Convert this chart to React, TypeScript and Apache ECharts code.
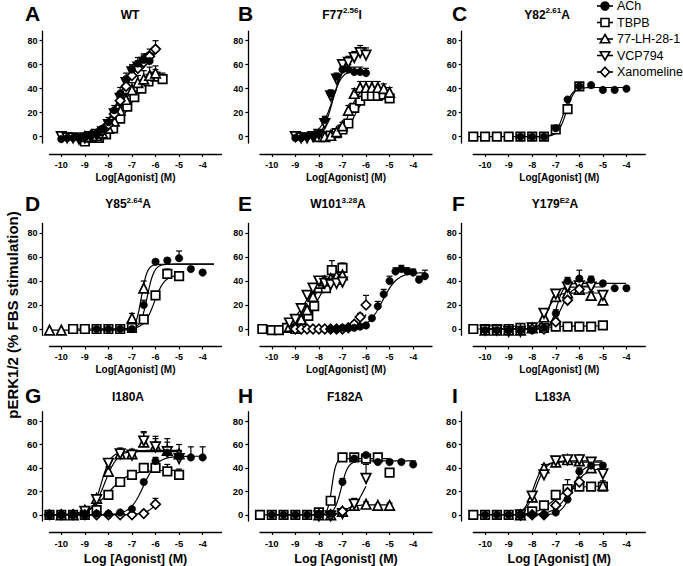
import React, { useEffect, useRef } from 'react';
import * as echarts from 'echarts';

type Pt = [number, number, number]; // [log conc, response, SEM (upper bar)]
type Fit = [number, number, number, number, number, number] | null; // bottom, top, logEC50, hill, xFrom, xTo

const LIGANDS = ['ACh', 'TBPB', '77-LH-28-1', 'VCP794', 'Xanomeline'];
const PANEL_LETTERS = ['A', 'B', 'C', 'D', 'E', 'F', 'G', 'H', 'I'];
const PANEL_TITLES = [
  '{b|WT}', '{b|F77}{s|2.56}{b|I}', '{b|Y82}{s|2.61}{b|A}',
  '{b|Y85}{s|2.64}{b|A}', '{b|W101}{s|3.28}{b|A}', '{b|Y179}{s|E2}{b|A}',
  '{b|I180A}', '{b|F182A}', '{b|L183A}',
];
const X_NAMES = ['Log[Agonist] (M)', 'Log[Agonist] (M)', 'Log [Agonist] (M)'];
const Y_TITLE = 'pERK1/2 (% FBS stimulation)';
const Y_TICKS = [0, 20, 40, 60, 80];
const X_TICKS = [-10, -9, -8, -7, -6, -5, -4];

// ---- Panel A: WT
const A_ACh: Pt[] = [[-10,-2,1],[-9.75,-1,1],[-9.5,-1,1],[-9.25,-1,1],[-9,0,1],[-8.75,1,1],[-8.5,2,2],[-8.25,6,3],[-8,12,4],[-7.75,22,4],[-7.5,36,5],[-7.25,48,5],[-7,56,4],[-6.75,61,5],[-6.5,64,5],[-6.25,63,5]];
const A_TBPB: Pt[] = [[-9,-4,2],[-8.7,-1,2],[-8.4,-1,2],[-8.1,2,2],[-7.8,7,3],[-7.5,15,3],[-7.2,25,4],[-6.9,33,5],[-6.6,40,5],[-6.3,46,6],[-6,50,6],[-5.7,48,5]];
const A_LH: Pt[] = [[-9,0,1],[-8.75,0,1],[-8.5,1,2],[-8.25,3,2],[-8,7,3],[-7.75,13,3],[-7.5,22,4],[-7.25,31,5],[-7,39,6],[-6.75,45,6],[-6.5,48,7],[-6.25,51,7],[-6,53,6]];
const A_VCP: Pt[] = [[-10,0,1],[-9.75,-1,1],[-9.5,-1,1],[-9.25,-2,1],[-9,-1,1],[-8.75,0,1],[-8.5,2,2],[-8.25,4,3],[-8,10,3],[-7.75,19,4],[-7.5,32,5],[-7.25,45,5],[-7,54,5],[-6.75,58,5],[-6.5,62,5],[-6.25,65,5]];
const A_XAN: Pt[] = [[-9,0,1],[-8.75,1,1],[-8.5,2,2],[-8.25,5,2],[-8,10,3],[-7.75,19,4],[-7.5,30,5],[-7.25,42,5],[-7,51,5],[-6.75,57,6],[-6.5,62,6],[-6.25,67,6],[-6,73,7]];
const A_FIT: Fit[] = [[0,66,-7.55,1.3,-10,-6.25],[-1,52,-7.1,1.0,-9,-5.7],[0,55,-7.35,1.1,-9,-6],[0,68,-7.5,1.2,-10,-6.25],[0,80,-7.3,0.9,-9,-6]];

// ---- Panel B: F77I
const B_ACh: Pt[] = [[-9,-1,1],[-8.75,-1,1],[-8.5,0,1],[-8.25,1,1],[-8,3,2],[-7.75,14,3],[-7.5,36,3],[-7.25,50,3],[-7,56,3],[-6.75,56,4],[-6.5,54,4],[-6.25,54,4],[-6,53,4]];
const B_TBPB: Pt[] = [[-8,0,1],[-7.75,0,1],[-7.5,1,1],[-7.25,3,1],[-7,6,2],[-6.75,11,2],[-6.5,24,3],[-6.25,30,3],[-6,34,4],[-5.75,34,4],[-5.5,34,4],[-5.25,35,4],[-5,32,4]];
const B_LH: Pt[] = [[-8,0,1],[-7.75,0,1],[-7.5,1,1],[-7.25,4,2],[-7,9,3],[-6.75,22,4],[-6.5,36,4],[-6.25,41,5],[-6,41,5],[-5.75,41,5],[-5.5,41,5],[-5.25,40,4],[-5,37,4]];
const B_VCP: Pt[] = [[-9,0,1],[-8.75,-1,1],[-8.5,-1,1],[-8.25,0,1],[-8,2,2],[-7.75,11,4],[-7.5,34,4],[-7.25,48,4],[-7,60,4],[-6.75,62,5],[-6.5,66,5],[-6.25,70,6],[-6,68,6]];
const B_XAN: Pt[] = [];
const B_FIT: Fit[] = [[0,55,-7.45,2.2,-9,-6],[0,34,-6.5,2,-8,-5],[0,41,-6.7,2,-8,-5],[0,70,-7.35,1.5,-9,-6],null];

// ---- Panel C: Y82A
const C_ACh: Pt[] = [[-8.5,0,0],[-8,0,0],[-7.5,0,0],[-7,7,0],[-6.5,31,0],[-6,42,0],[-5.5,43,0],[-5,39,0],[-4.5,39,0],[-4,40,0]];
const C_TBPB: Pt[] = [[-10.5,0,0],[-10,0,0],[-9.5,0,0],[-9,0,0],[-8.5,0,0],[-8,0,0],[-7.5,0,0],[-7,6,0],[-6.5,23,0],[-6,42,0]];
const C_FIT: Fit[] = [[0,41,-6.65,2.5,-8.5,-4],[0,42,-6.55,2.5,-10.5,-6],null,null,null];

// ---- Panel D: Y85A
const D_ACh: Pt[] = [[-8.5,0,0],[-8,0,0],[-7.5,0,0],[-7,0,0],[-6.5,20,4],[-6,56,2],[-5.5,57,2],[-5,59,6],[-4.5,50,2],[-4,47,2]];
const D_TBPB: Pt[] = [[-9.5,0,0],[-9,0,0],[-8.5,0,0],[-8,0,0],[-7.5,0,0],[-7,1,0],[-6.5,8,2],[-6,28,2],[-5.5,46,4],[-5,44,2]];
const D_LH: Pt[] = [[-10.5,-1,0],[-10,-1,0],[-7,9,4],[-6.5,34,6]];
const D_FIT: Fit[] = [[0,54,-6.35,3,-8.5,-3.5],[0,45,-6.05,2,-9.5,-5],[-1,54,-6.6,3.5,-10.5,-3.5],null,null];

// ---- Panel E: W101A
const E_ACh: Pt[] = [[-7.5,0,0],[-7.25,0,0],[-7,1,0],[-6.75,1,0],[-6.5,1,0],[-6.25,2,0],[-6,3,0],[-5.75,9,0],[-5.5,19,4],[-5.25,29,4],[-5,40,4],[-4.75,48,3],[-4.5,50,3],[-4.25,48,3],[-4,47,3],[-3.75,41,3],[-3.5,44,5]];
const E_TBPB: Pt[] = [[-10.4,0,2],[-10,-1,1],[-9.7,-1,1],[-9.35,1,1],[-9,0,1],[-8.75,4,2],[-8.45,11,3],[-8.2,19,4],[-8,34,4],[-7.7,34,4],[-7.45,49,8],[-7.2,41,4],[-7,51,4]];
const E_LH: Pt[] = [[-9.25,2,1],[-9,3,1],[-8.75,8,2],[-8.5,16,3],[-8.25,27,3],[-8,38,4],[-7.75,40,4],[-7.5,42,4],[-7.25,44,4],[-7,45,4]];
const E_VCP: Pt[] = [[-9.25,5,1],[-9,8,2],[-8.75,17,3],[-8.5,28,3],[-8.25,34,3],[-8,40,3],[-7.75,38,3],[-7.5,37,3],[-7.25,38,3],[-7,39,3]];
const E_XAN: Pt[] = [[-9,0,0],[-8.75,0,0],[-8.5,0,0],[-8.25,0,0],[-8,0,0],[-7.75,0,0],[-7.5,0,0],[-7.25,0,0],[-7,0,0],[-6.75,1,0],[-6.5,4,2],[-6.25,10,3],[-6,20,8]];
const E_FIT: Fit[] = [[0,47,-5.3,1.4,-7.5,-3.5],[0,52,-8.0,1.2,-9.5,-7],[0,47,-8.3,1.3,-9.25,-7],[0,40,-8.65,1.3,-9.25,-7],[0,60,-5.6,1.5,-9,-6]];

// ---- Panel F: Y179A
const F_ACh: Pt[] = [[-10,-1,0],[-9.5,-1,0],[-9,-1,0],[-8.5,-1,0],[-8,-1,0],[-7.5,1,0],[-7,13,3],[-6.5,40,3],[-6,42,7],[-5.5,41,3],[-5,38,2],[-4.5,34,0],[-4,34,2]];
const F_TBPB: Pt[] = [[-10.5,0,0],[-10,0,0],[-9.5,0,0],[-9,0,0],[-8.5,1,0],[-8,1,0],[-7.5,1,0],[-7,2,0],[-6.5,2,0],[-6,2,0],[-5.5,2,0],[-5,3,1]];
const F_LH: Pt[] = [[-10,-1,0],[-9.5,-1,0],[-9,-1,0],[-8.5,-1,0],[-8,1,0],[-7.5,10,3],[-7,27,3],[-6.5,30,3],[-6,33,4],[-5.5,28,3],[-5,24,3]];
const F_VCP: Pt[] = [[-10,-1,0],[-9.5,-1,0],[-9,-2,0],[-8.5,-2,0],[-8,1,0],[-7.5,13,3],[-7,29,3],[-6.5,35,3],[-6,36,4],[-5.5,35,3],[-5,28,3]];
const F_XAN: Pt[] = [[-8,0,0],[-7.5,0,0],[-7,6,3],[-6.5,24,3],[-6,33,4]];
const F_FIT: Fit[] = [[0,38,-6.95,3,-10,-4],[0,2.5,-7.5,1,-10.5,-5],[0,30,-7.35,2.5,-10,-5],[0,35,-7.3,2.5,-10,-5],[0,36,-6.75,2,-8,-5.5]];

// ---- Panel G: I180A
const G_ACh: Pt[] = [[-10.5,0,0],[-10,0,0],[-9.5,0,0],[-9,0,0],[-8.5,1,0],[-8,1,0],[-7.5,2,1],[-7,5,1],[-6.5,28,2],[-6,46,3],[-5.5,53,5],[-5,50,5],[-4.5,49,9],[-4,49,9]];
const G_TBPB: Pt[] = [[-10.5,0,0],[-10,0,0],[-9.5,0,0],[-9,0,0],[-8.5,4,2],[-8,17,3],[-7.5,28,3],[-7,34,3],[-6.5,40,3],[-6,40,4],[-5.5,37,6],[-5,34,5]];
const G_LH: Pt[] = [[-10,0,0],[-9.5,0,0],[-9,4,2],[-8.5,14,3],[-8,37,4],[-7.5,52,5],[-7,52,4],[-6.5,62,9],[-6,59,8],[-5.5,55,10],[-5,52,8]];
const G_VCP: Pt[] = [[-9,3,0],[-8.5,13,3],[-8,44,4],[-7.5,52,4],[-7,51,3],[-6.5,63,7],[-6,58,7],[-5.5,54,8],[-5,48,6]];
const G_XAN: Pt[] = [[-10.5,0,0],[-10,0,0],[-9.5,0,0],[-9,0,0],[-8.5,0,0],[-8,0,0],[-7.5,0,0],[-7,0,0],[-6.5,1,0],[-6,9,5]];
const G_FIT: Fit[] = [[0,50,-6.5,1.5,-10.5,-4],[0,38,-8.0,1.0,-10.5,-5],[0,55,-8.15,1.6,-10,-5],[0,54,-8.3,2.2,-9,-5],[0,60,-5.5,1.5,-10.5,-6]];

// ---- Panel H: F182A
const H_ACh: Pt[] = [[-10,0,0],[-9.5,0,0],[-9,0,0],[-8.5,0,0],[-8,0,0],[-7.5,1,0],[-7,28,3],[-6.5,48,2],[-6,51,2],[-5.5,45,2],[-5,45,2],[-4.5,45,2],[-4,43,3]];
const H_TBPB: Pt[] = [[-10.5,0,0],[-10,0,0],[-9.5,0,0],[-9,0,0],[-8.5,0,0],[-8,2,0],[-7.5,12,1],[-7,49,1],[-6.5,49,1],[-6,48,2],[-5.5,49,1],[-5,36,1]];
const H_LH: Pt[] = [[-8,0,0],[-7.5,0,0],[-7,3,2],[-6.5,8,2],[-6,9,2],[-5.5,8,1],[-5,8,2]];
const H_VCP: Pt[] = [[-8,-1,0],[-7.5,-1,0],[-7,1,0],[-6.5,9,5],[-6,31,12]];
const H_XAN: Pt[] = [[-8,0,0],[-7.5,0,0],[-7,3,0]];
const H_FIT: Fit[] = [[0,46,-7.05,3,-10,-4],[0,48,-7.45,5,-10.5,-5],[0,8.5,-6.9,2,-8,-5],[0,45,-6.05,1.5,-8,-6],null];

// ---- Panel I: L183A
const I_ACh: Pt[] = [[-10,0,0],[-9.5,0,0],[-9,0,0],[-8.5,0,0],[-8,0,0],[-7.5,0,0],[-7,2,0],[-6.5,13,2],[-6,37,3],[-5.5,42,2],[-5,42,2]];
const I_TBPB: Pt[] = [[-10.5,0,0],[-10,0,0],[-9.5,0,0],[-9,0,0],[-8.5,0,0],[-8,3,0],[-7.5,8,0],[-7,17,2],[-6.5,22,8],[-6,24,3],[-5.5,24,2],[-5,24,2]];
const I_LH: Pt[] = [[-8.5,0,0],[-8,15,3],[-7.5,40,3],[-7,45,3],[-6.5,47,3],[-6,46,4],[-5.5,40,3],[-5,25,4]];
const I_VCP: Pt[] = [[-8.5,0,0],[-8,16,3],[-7.5,34,3],[-7,46,3],[-6.5,47,3],[-6,47,4],[-5.5,45,3],[-5,35,3]];
const I_XAN: Pt[] = [[-8.5,0,0],[-8,0,0],[-7.5,0,0],[-7,8,2],[-6.5,19,3],[-6,28,4]];
const I_FIT: Fit[] = [[0,43,-6.3,2,-10,-5],[0,24.5,-7.1,1.2,-10.5,-5],[0,45,-7.95,2.2,-8.5,-5],[0,46,-7.85,2,-8.5,-5],[0,40,-6.4,1.3,-8.5,-5]];

const PANEL_DATA: Pt[][][] = [
  [A_ACh, A_TBPB, A_LH, A_VCP, A_XAN],
  [B_ACh, B_TBPB, B_LH, B_VCP, B_XAN],
  [C_ACh, C_TBPB, [], [], []],
  [D_ACh, D_TBPB, D_LH, [], []],
  [E_ACh, E_TBPB, E_LH, E_VCP, E_XAN],
  [F_ACh, F_TBPB, F_LH, F_VCP, F_XAN],
  [G_ACh, G_TBPB, G_LH, G_VCP, G_XAN],
  [H_ACh, H_TBPB, H_LH, H_VCP, H_XAN],
  [I_ACh, I_TBPB, I_LH, I_VCP, I_XAN],
];
const PANEL_FITS: Fit[][] = [A_FIT, B_FIT, C_FIT, D_FIT, E_FIT, F_FIT, G_FIT, H_FIT, I_FIT];

// ---- layout / style (not data)
const FONT = '"Liberation Sans", Arial, sans-serif';
const COL_LEFT = [49.5, 260, 473.3];
const COL_YGAP = [7, 11.7, 11.6];
const GRID_W = 172;
const ROW_ZERO = [136.7, 329, 517.3];
const PX_PER_UNIT = 1.2;
const Y_MIN = -5.3;
const Y_MAX = 88;
const X_MIN = -10.5;
const X_MAX = -3.2;
const TITLE_X = [130, 342, 547, 128, 338, 555, 128, 345, 553];
const LETTER_X = [25, 238, 452];
const ROW_TITLE_Y = [13.5, 203, 395.5];

const SYMBOL = ['circle', 'rect', 'triangle', 'triangle', 'diamond'];
const SYMBOL_ROT = [0, 0, 0, 180, 0];
const SYMBOL_SIZE = [7.5, 8.5, 9.5, 9.5, 9.5];
const SYMBOL_Z = [6, 5, 5, 5, 5];

function hillY(f: Fit, x: number): number {
  if (!f) return 0;
  const [b, t, ec, h] = f;
  return b + (t - b) / (1 + Math.pow(10, (ec - x) * h));
}

function buildOption() {
  const grid: any[] = [];
  const xAxis: any[] = [];
  const yAxis: any[] = [];
  const series: any[] = [];
  const graphic: any[] = [];

  for (let p = 0; p < 9; p++) {
    const row = Math.floor(p / 3);
    const col = p % 3;
    const y0 = ROW_ZERO[row];
    const top = y0 - Y_MAX * PX_PER_UNIT;
    const height = (Y_MAX - Y_MIN) * PX_PER_UNIT;
    grid.push({ left: COL_LEFT[col], top, width: GRID_W, height });
    const big = row === 2;
    xAxis.push({
      gridIndex: p, type: 'value', min: X_MIN, max: X_MAX, position: 'bottom', offset: 11,
      axisLine: { show: true, onZero: false, lineStyle: { color: '#000', width: 1.3 } },
      axisTick: { show: true, length: 3, customValues: X_TICKS, lineStyle: { color: '#000', width: 1.2 } },
      axisLabel: { customValues: X_TICKS, fontSize: big ? 9.5 : 9, fontWeight: 'bold', color: '#000', margin: 6, fontFamily: FONT },
      splitLine: { show: false },
      name: X_NAMES[row], nameLocation: 'middle', nameGap: big ? 20 : 18,
      nameTextStyle: { fontSize: big ? 12.5 : 10, fontWeight: 'bold', color: '#000', fontFamily: FONT },
    });
    yAxis.push({
      gridIndex: p, type: 'value', min: Y_MIN, max: Y_MAX, position: 'left', offset: COL_YGAP[col],
      axisLine: { show: true, onZero: false, lineStyle: { color: '#000', width: 1.3 } },
      axisTick: { show: true, length: 3, customValues: Y_TICKS, lineStyle: { color: '#000', width: 1.2 } },
      axisLabel: { customValues: Y_TICKS, fontSize: big ? 9.5 : 9, fontWeight: 'bold', color: '#000', margin: 5, fontFamily: FONT },
      splitLine: { show: false },
    });

    // fitted curves
    PANEL_FITS[p].forEach((f, l) => {
      if (!f) return;
      const pts: number[][] = [];
      const [, , , , x0, x1] = f;
      const n = Math.max(2, Math.round((x1 - x0) / 0.02));
      for (let i = 0; i <= n; i++) {
        const x = x0 + ((x1 - x0) * i) / n;
        pts.push([x, hillY(f, x)]);
      }
      series.push({
        type: 'line', name: LIGANDS[l] + ' fit', xAxisIndex: p, yAxisIndex: p, data: pts,
        showSymbol: false, symbol: 'none', silent: true, z: 2,
        lineStyle: { color: '#000', width: 1.2 },
      });
    });

    PANEL_DATA[p].forEach((d, l) => {
      if (!d.length) return;
      series.push({
        type: 'custom', name: LIGANDS[l] + ' err', xAxisIndex: p, yAxisIndex: p, z: 3, silent: true,
        data: d,
        encode: { x: 0, y: 1 },
        renderItem: (params: any, api: any) => {
          const x = api.value(0);
          const y = api.value(1);
          const e = api.value(2);
          if (!e) return { type: 'group', children: [] };
          const a = api.coord([x, y]);
          const b = api.coord([x, y + e]);
          return {
            type: 'group',
            children: [
              { type: 'line', shape: { x1: a[0], y1: a[1], x2: b[0], y2: b[1] }, style: { stroke: '#000', lineWidth: 1.2 } },
              { type: 'line', shape: { x1: b[0] - 3, y1: b[1], x2: b[0] + 3, y2: b[1] }, style: { stroke: '#000', lineWidth: 1.2 } },
            ],
          };
        },
      });
      series.push({
        type: 'scatter', name: LIGANDS[l], xAxisIndex: p, yAxisIndex: p, z: SYMBOL_Z[l],
        data: d.map((q) => [q[0], q[1]]),
        symbol: SYMBOL[l], symbolRotate: SYMBOL_ROT[l], symbolSize: SYMBOL_SIZE[l],
        itemStyle: l === 0
          ? { color: '#000', borderColor: '#000', borderWidth: 0.5, opacity: 1 }
          : { color: '#fff', borderColor: '#000', borderWidth: 1.7, opacity: 1 },
      });
    });

    // panel title + letter
    graphic.push({
      type: 'text', x: TITLE_X[p], y: ROW_TITLE_Y[row],
      style: {
        text: PANEL_TITLES[p], align: 'center', verticalAlign: 'middle',
        rich: {
          b: { fontSize: 12, fontWeight: 'bold', fontFamily: FONT, fill: '#000', lineHeight: 14, verticalAlign: 'bottom' },
          s: { fontSize: 8, fontWeight: 'bold', fontFamily: FONT, fill: '#000', lineHeight: 9, verticalAlign: 'top' },
        },
      },
    });
    graphic.push({
      type: 'text', x: LETTER_X[col], y: ROW_TITLE_Y[row],
      style: { text: PANEL_LETTERS[p], align: 'left', verticalAlign: 'middle', fontSize: 21, fontWeight: 'bold', fontFamily: FONT, fill: '#000' },
    });
  }

  // y title
  graphic.push({
    type: 'text', x: 12, y: 315, rotation: Math.PI / 2,
    style: { text: Y_TITLE, align: 'center', verticalAlign: 'middle', fontSize: 15, fontWeight: 'bold', fontFamily: FONT, fill: '#000' },
  });

  // legend
  LIGANDS.forEach((name, i) => {
    const y = 6 + i * 16.5;
    const cx = 605;
    graphic.push({ type: 'line', shape: { x1: 597, y1: y, x2: 613, y2: y }, style: { stroke: '#000', lineWidth: 1.6 } });
    const st = { fill: i === 0 ? '#000' : '#fff', stroke: '#000', lineWidth: 1.6 };
    if (i === 0) graphic.push({ type: 'circle', shape: { cx, cy: y, r: 4 }, style: st });
    else if (i === 1) graphic.push({ type: 'rect', shape: { x: cx - 4, y: y - 4, width: 8, height: 8 }, style: st });
    else if (i === 2) graphic.push({ type: 'polygon', shape: { points: [[cx, y - 4.5], [cx + 4.8, y + 3.8], [cx - 4.8, y + 3.8]] }, style: st });
    else if (i === 3) graphic.push({ type: 'polygon', shape: { points: [[cx, y + 4.5], [cx + 4.8, y - 3.8], [cx - 4.8, y - 3.8]] }, style: st });
    else graphic.push({ type: 'polygon', shape: { points: [[cx, y - 4.8], [cx + 4.5, y], [cx, y + 4.8], [cx - 4.5, y]] }, style: st });
    graphic.push({
      type: 'text', x: 617, y,
      style: { text: name, align: 'left', verticalAlign: 'middle', fontSize: 12.5, fontFamily: FONT, fill: '#000' },
    });
  });

  return {
    animation: false,
    backgroundColor: '#fff',
    grid, xAxis, yAxis, series, graphic,
  };
}

export default function App() {
  const ref = useRef<HTMLDivElement>(null);
  useEffect(() => {
    if (!ref.current) return;
    const chart = echarts.init(ref.current, undefined, { renderer: 'svg' });
    chart.setOption(buildOption() as any);
    return () => chart.dispose();
  }, []);
  return <div ref={ref} style={{ position: 'absolute', left: 0, top: 0, width: 683, height: 566, background: '#fff' }} />;
}
